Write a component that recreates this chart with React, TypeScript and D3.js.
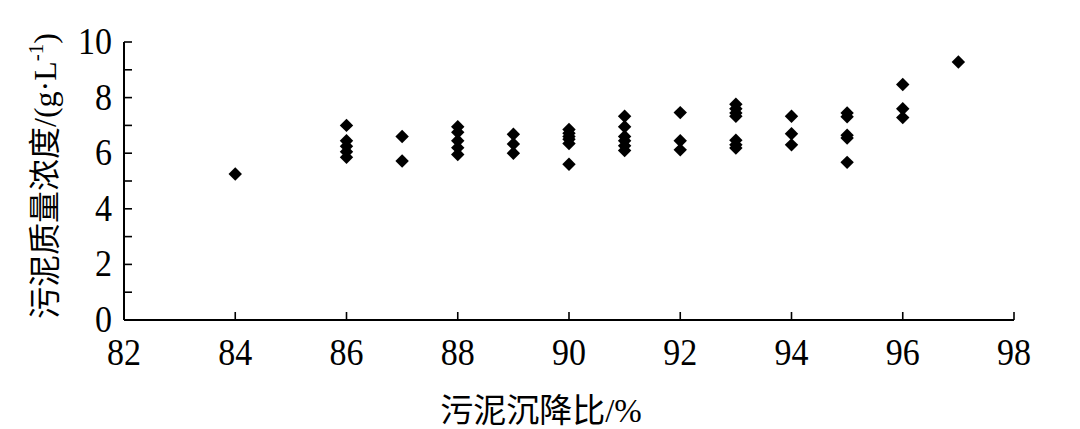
import React, {useEffect, useRef} from 'react';
import * as d3 from 'd3';

// 污泥沉降比 (%) 与 污泥质量浓度 (g/L)
const ratio = [
    84,
    86, 86, 86, 86, 86,
    87, 87,
    88, 88, 88, 88, 88,
    89, 89, 89,
    90, 90, 90, 90, 90, 90,
    91, 91, 91, 91, 91, 91,
    92, 92, 92,
    93, 93, 93, 93, 93, 93, 93,
    94, 94, 94,
    95, 95, 95, 95, 95,
    96, 96, 96,
    97
];
const conc = [
    5.25,
    7.0, 6.45, 6.25, 6.05, 5.85,
    6.6, 5.72,
    6.95, 6.75, 6.45, 6.2, 5.95,
    6.68, 6.33, 6.0,
    6.85, 6.72, 6.6, 6.5, 6.35, 5.6,
    7.33, 6.95, 6.6, 6.45, 6.27, 6.1,
    7.46, 6.45, 6.12,
    7.76, 7.6, 7.45, 7.33, 6.47, 6.3, 6.19,
    7.33, 6.7, 6.3,
    7.45, 7.31, 6.65, 6.55, 5.67,
    8.47, 7.6, 7.28,
    9.28
];
const xTicks = [82, 84, 86, 88, 90, 92, 94, 96, 98];
const yTicks = [0, 2, 4, 6, 8, 10];
const yMinor = [1, 3, 5, 7, 9];

const W = 1080, H = 429;
const serif = "'Liberation Serif', 'DejaVu Serif', serif";
const cjk = "'Liberation Serif', 'Noto Sans CJK SC', serif";

const App: React.FC = () => {
    const svgRef = useRef<SVGSVGElement | null>(null);

    useEffect(() => {
        const svg = d3.select(svgRef.current);
        svg.selectAll('*').remove();

        const x = d3.scaleLinear().domain([82, 98]).range([124, 1014]);
        const y = d3.scaleLinear().domain([0, 10]).range([320, 42]);

        const g = svg.append('g');

        // axes lines
        g.append('line')
            .attr('x1', x(82)).attr('x2', x(98))
            .attr('y1', y(0)).attr('y2', y(0))
            .attr('stroke', '#000').attr('stroke-width', 2);
        g.append('line')
            .attr('x1', x(82)).attr('x2', x(82))
            .attr('y1', y(0)).attr('y2', y(10))
            .attr('stroke', '#000').attr('stroke-width', 2);

        // x ticks, pointing inward
        g.selectAll('line.xt')
            .data(xTicks.slice(1))
            .enter().append('line')
            .attr('class', 'xt')
            .attr('x1', d => x(d)).attr('x2', d => x(d))
            .attr('y1', y(0)).attr('y2', y(0) - 8)
            .attr('stroke', '#000').attr('stroke-width', 1.6);
        g.selectAll('text.xl')
            .data(xTicks)
            .enter().append('text')
            .attr('class', 'xl')
            .attr('transform', d => `translate(${x(d)},365) scale(0.92,1)`)
            .attr('text-anchor', 'middle')
            .style('font-family', serif)
            .style('font-size', '37px')
            .text(d => d);

        // y ticks
        g.selectAll('line.yt')
            .data(yTicks.slice(1).concat(yMinor))
            .enter().append('line')
            .attr('class', 'yt')
            .attr('x1', x(82)).attr('x2', x(82) + 8)
            .attr('y1', d => y(d)).attr('y2', d => y(d))
            .attr('stroke', '#000').attr('stroke-width', 1.6);
        g.selectAll('text.yl')
            .data(yTicks)
            .enter().append('text')
            .attr('class', 'yl')
            .attr('transform', d => `translate(112,${y(d) + 12}) scale(0.92,1)`)
            .attr('text-anchor', 'end')
            .style('font-family', serif)
            .style('font-size', '37px')
            .text(d => d);

        // points
        const diamond = d3.symbol().type(d3.symbolDiamond2).size(115);
        g.selectAll('path.pt')
            .data(ratio.map((r, i) => [r, conc[i]]))
            .enter().append('path')
            .attr('class', 'pt')
            .attr('d', diamond)
            .attr('transform', d => `translate(${x(d[0])},${y(d[1])})`)
            .attr('fill', '#000');

        // axis titles
        g.append('text')
            .attr('x', 541)
            .attr('y', 422)
            .attr('text-anchor', 'middle')
            .style('font-family', cjk)
            .style('font-size', '33px')
            .text('污泥沉降比/%');

        const yt = g.append('text')
            .attr('transform', 'translate(56,176) rotate(-90)')
            .attr('text-anchor', 'middle')
            .style('font-family', cjk)
            .style('font-size', '32px');
        yt.append('tspan').text('污泥质量浓度/(g·L');
        yt.append('tspan').attr('dy', -13).style('font-size', '21px').text('-1');
        yt.append('tspan').attr('dy', 13).text(')');
    }, []);

    return (
        <svg ref={svgRef} width={W} height={H}
             style={{position: 'absolute', left: 0, top: 0, background: '#fff'}}/>
    );
};

export default App;
